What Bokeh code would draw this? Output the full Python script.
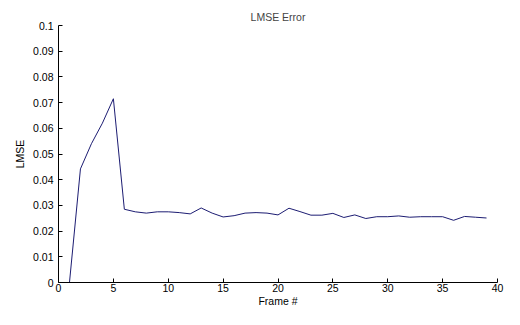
from bokeh.plotting import figure
from bokeh.embed import file_html
from bokeh.resources import INLINE
from bokeh.models import FixedTicker

frames = list(range(1, 40))
lmse = [0.0, 0.0442, 0.054, 0.062, 0.0715, 0.0285, 0.0275, 0.027, 0.0275, 0.0275,
        0.0272, 0.0267, 0.029, 0.027, 0.0255, 0.026, 0.027, 0.0272, 0.027, 0.0263,
        0.0289, 0.0276, 0.0262, 0.0262, 0.0269, 0.0253, 0.0263, 0.0249, 0.0256, 0.0256,
        0.0259, 0.0254, 0.0256, 0.0256, 0.0256, 0.0242, 0.0257, 0.0254, 0.0251]
x_ticks = [0, 5, 10, 15, 20, 25, 30, 35, 40]
y_ticks = [0, 0.01, 0.02, 0.03, 0.04, 0.05, 0.06, 0.07, 0.08, 0.09, 0.1]
y_tick_labels = {0: "0", 0.01: "0.01", 0.02: "0.02", 0.03: "0.03", 0.04: "0.04",
                 0.05: "0.05", 0.06: "0.06", 0.07: "0.07", 0.08: "0.08", 0.09: "0.09", 0.1: "0.1"}

FONT = "Liberation Sans"
FS = "10.5px"

p = figure(width=504, height=309, x_range=(0, 40), y_range=(0, 0.1),
           output_backend="svg", toolbar_location=None,
           min_border_left=58, min_border_right=7, min_border_top=25, min_border_bottom=10,
           title="LMSE Error")
p.title.align = "center"
p.title.text_font = FONT
p.title.text_font_size = FS
p.title.text_font_style = "normal"
p.title.standoff = 6

p.line(frames, lmse, line_color="#1c1c72", line_width=1)

p.outline_line_color = None
p.grid.visible = False

for ax in (p.xaxis[0], p.yaxis[0]):
    ax.major_tick_in = 4
    ax.major_tick_out = 0
    ax.minor_tick_line_color = None
    ax.axis_line_color = "black"
    ax.major_tick_line_color = "black"
    ax.major_label_text_font = FONT
    ax.major_label_text_font_size = FS
    ax.major_label_text_color = "black"
    ax.axis_label_text_font = FONT
    ax.axis_label_text_font_size = FS
    ax.axis_label_text_font_style = "normal"
    ax.axis_label_text_color = "black"

p.xaxis.ticker = FixedTicker(ticks=x_ticks)
p.yaxis.ticker = FixedTicker(ticks=y_ticks)
p.yaxis.major_label_overrides = y_tick_labels
p.xaxis.axis_label = "Frame #"
p.yaxis.axis_label = "LMSE"
p.xaxis.major_label_standoff = 1
p.xaxis.axis_label_standoff = 0
p.yaxis.major_label_standoff = 5
p.yaxis.axis_label_standoff = 4

open("out.html", "w").write(file_html(p, INLINE))
